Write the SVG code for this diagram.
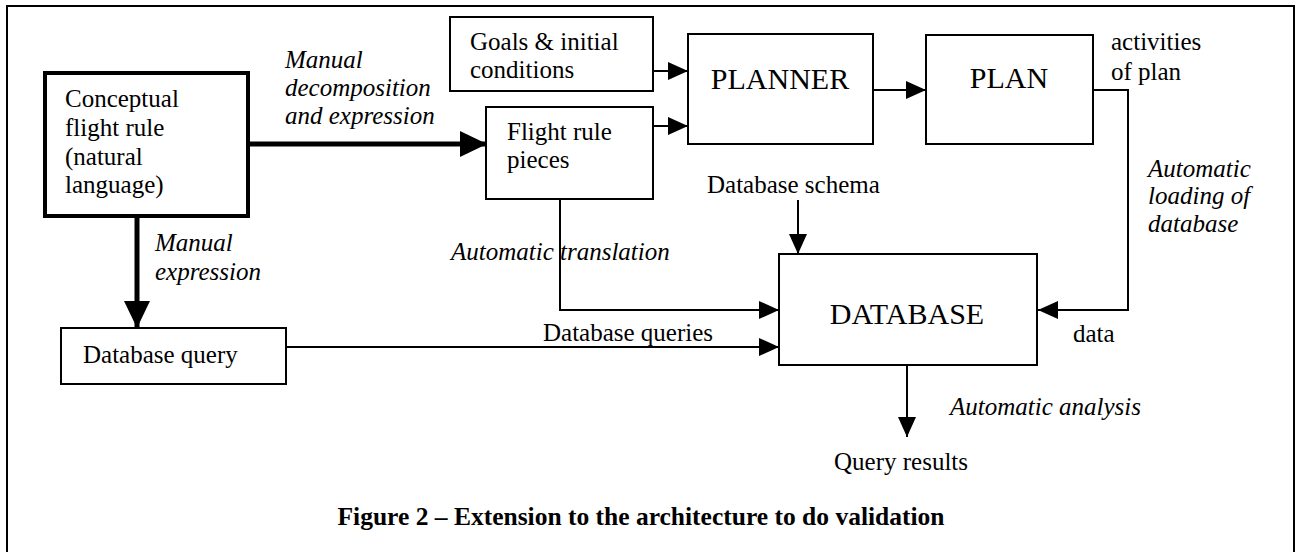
<svg xmlns="http://www.w3.org/2000/svg" width="1296" height="552" viewBox="0 0 1296 552">
<style>
.t{font-family:"Liberation Serif","Times New Roman",serif;font-size:25px;fill:#000}
.i{font-style:italic}
.big{font-size:30px}
.b{font-weight:bold;font-size:25.5px}
.box{fill:#fff;stroke:#000;stroke-width:2}
.ln{fill:none;stroke:#000;stroke-width:2}
.thick{fill:none;stroke:#000;stroke-width:5}
</style>
<defs>
<marker id="ah" markerUnits="userSpaceOnUse" markerWidth="20" markerHeight="18" refX="20" refY="9" orient="auto">
<path d="M0,0 L20,9 L0,18 z" fill="#000"/>
</marker>
<marker id="ahk" markerUnits="userSpaceOnUse" markerWidth="27" markerHeight="26" refX="27" refY="13" orient="auto">
<path d="M0,0 L27,13 L0,26 z" fill="#000"/>
</marker>
</defs>
<rect x="0" y="0" width="1296" height="552" fill="#fff"/>
<path d="M7,552 V6 H1294 V552" fill="none" stroke="#000" stroke-width="2"/>

<g id="connectors">
<path class="thick" d="M250,144 H487" marker-end="url(#ahk)"/>
<path class="thick" d="M137,218 V328" marker-end="url(#ahk)"/>
<path class="ln" d="M653,71 H688" marker-end="url(#ah)"/>
<path class="ln" d="M653,126 H688" marker-end="url(#ah)"/>
<path class="ln" d="M873,90 H926" marker-end="url(#ah)"/>
<path class="ln" d="M1093,90 H1128 V310 H1038" marker-end="url(#ah)"/>
<path class="ln" d="M560,199 V310 H779" marker-end="url(#ah)"/>
<path class="ln" d="M286,347 H779" marker-end="url(#ah)"/>
<path class="ln" d="M798,200 V254" marker-end="url(#ah)"/>
<path class="ln" d="M907,365 V437" marker-end="url(#ah)"/>
</g>

<g id="conceptual">
<rect x="45" y="73" width="203" height="143" fill="#fff" stroke="#000" stroke-width="4"/>
<text class="t" x="65" y="107">Conceptual</text>
<text class="t" x="65" y="136">flight rule</text>
<text class="t" x="65" y="165">(natural</text>
<text class="t" x="65" y="193">language)</text>
</g>

<g id="goals">
<rect class="box" x="450" y="17" width="203" height="74"/>
<text class="t" x="470" y="50">Goals &amp; initial</text>
<text class="t" x="470" y="78">conditions</text>
</g>

<g id="flightpieces">
<rect class="box" x="486" y="107" width="167" height="92"/>
<text class="t" x="507" y="140">Flight rule</text>
<text class="t" x="507" y="168">pieces</text>
</g>

<g id="planner">
<rect class="box" x="688" y="34" width="185" height="110"/>
<text class="t big" x="780" y="89" text-anchor="middle">PLANNER</text>
</g>

<g id="plan">
<rect class="box" x="926" y="35" width="167" height="109"/>
<text class="t big" x="1009" y="88" text-anchor="middle">PLAN</text>
</g>

<g id="database">
<rect class="box" x="779" y="254" width="258" height="111"/>
<text class="t big" x="907" y="324" text-anchor="middle">DATABASE</text>
</g>

<g id="dbquery">
<rect class="box" x="61" y="328" width="225" height="56"/>
<text class="t" x="83" y="363">Database query</text>
</g>

<g id="labels">
<text class="t i" x="285" y="68">Manual</text>
<text class="t i" x="285" y="96">decomposition</text>
<text class="t i" x="285" y="124">and expression</text>
<text class="t i" x="155" y="251">Manual</text>
<text class="t i" x="155" y="280">expression</text>
<text class="t" x="1111" y="50">activities</text>
<text class="t" x="1111" y="80">of plan</text>
<text class="t i" x="1148" y="177">Automatic</text>
<text class="t i" x="1148" y="204">loading of</text>
<text class="t i" x="1148" y="232">database</text>
<text class="t" x="707" y="193">Database schema</text>
<text class="t i" x="451" y="260">Automatic translation</text>
<text class="t" x="543" y="341">Database queries</text>
<text class="t" x="1073" y="342">data</text>
<text class="t i" x="950" y="415">Automatic analysis</text>
<text class="t" x="834" y="470">Query results</text>
<text class="t b" x="641" y="525" text-anchor="middle">Figure 2 – Extension to the architecture to do validation</text>
</g>
</svg>
